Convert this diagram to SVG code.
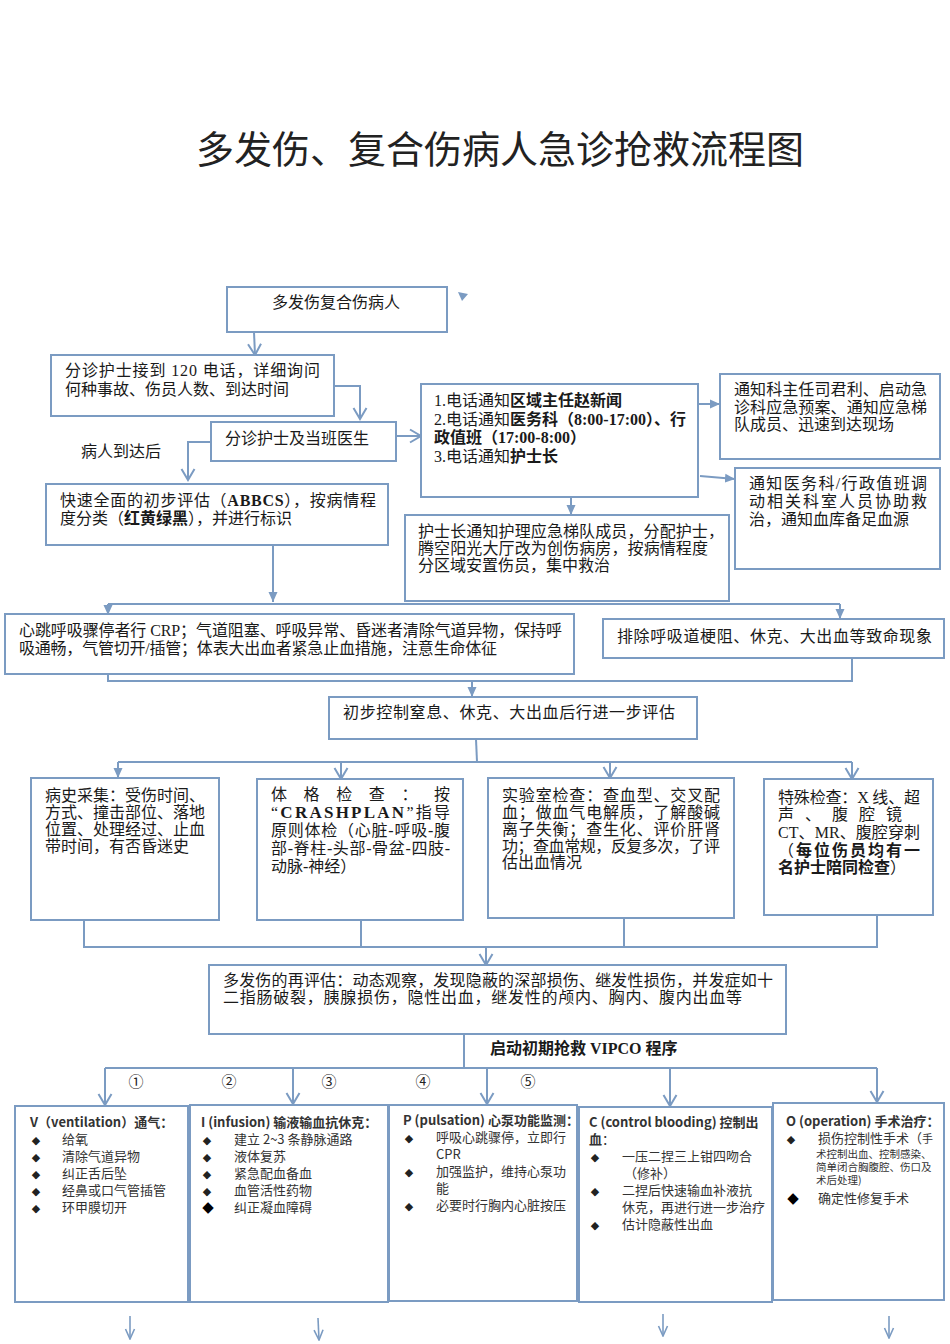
<svg xmlns="http://www.w3.org/2000/svg" width="950" height="1344" viewBox="0 0 950 1344">
<style>
.b{fill:#fff;stroke:#7b9bc2;stroke-width:2}
.c{fill:none;stroke:#7b9bc2;stroke-width:2}
.c2{fill:none;stroke:#7b9bc2;stroke-width:1.6}
.t{font-family:"Liberation Serif","Noto Sans CJK SC",serif;font-size:16px;fill:#1a1a1a}
.s{font-family:"Noto Sans CJK SC","Noto Sans",sans-serif;font-size:13px;fill:#333}
.sm{font-family:"Noto Sans CJK SC","Noto Sans",sans-serif;font-size:10.5px;fill:#333}
.bd{font-weight:bold}
.d{font-family:"DejaVu Sans",sans-serif;font-size:11px;fill:#222}
.dl{font-family:"DejaVu Sans",sans-serif;font-size:15px;fill:#000}
.n{font-family:"Noto Sans CJK SC",sans-serif;font-size:15px;fill:#222}
</style>
<defs>
<marker id="v" markerUnits="userSpaceOnUse" markerWidth="14" markerHeight="16" viewBox="0 0 14 16" refX="12" refY="8" orient="auto"><path d="M1,1.5 L12,8 L1,14.5" fill="none" stroke="#7b9bc2" stroke-width="2"/></marker>
<marker id="vs" markerUnits="userSpaceOnUse" markerWidth="12" markerHeight="12" viewBox="0 0 12 12" refX="11" refY="6" orient="auto"><path d="M1,1.5 L11,6 L1,10.5" fill="none" stroke="#7b9bc2" stroke-width="1.6"/></marker>
<marker id="f" markerUnits="userSpaceOnUse" markerWidth="10" markerHeight="10" viewBox="0 0 10 10" refX="10" refY="5" orient="auto"><path d="M0,0.5 L10,5 L0,9.5 z" fill="#7b9bc2"/></marker>
</defs>

<text x="500" y="163" text-anchor="middle" style="font-family:'Noto Sans CJK SC',sans-serif;font-size:38px;fill:#222">多发伤、复合伤病人急诊抢救流程图</text>

<g id="connectors">
<polygon points="458,292 468,294 462,301" fill="#7b9bc2"/>
<line class="c" x1="254" y1="332" x2="255" y2="355" marker-end="url(#v)"/>
<polyline class="c" points="334,386 360,386 360,419" marker-end="url(#v)"/>
<polyline class="c" points="211,442 188,442 188,480" marker-end="url(#v)"/>
<line class="c" x1="396" y1="436" x2="421" y2="436" marker-end="url(#v)"/>
<line class="c" x1="273" y1="545" x2="273" y2="602" marker-end="url(#f)"/>
<line class="c" x1="698" y1="404" x2="720" y2="404" marker-end="url(#f)"/>
<line class="c" x1="700" y1="476" x2="735" y2="479" marker-end="url(#f)"/>
<line class="c" x1="571" y1="497" x2="571" y2="515" marker-end="url(#f)"/>
<line class="c" x1="108" y1="604" x2="840" y2="604"/>
<line class="c" x1="108" y1="604" x2="108" y2="615" marker-end="url(#f)"/>
<line class="c" x1="840" y1="604" x2="840" y2="619" marker-end="url(#f)"/>
<polyline class="c" points="108,674 108,681 852,681 852,658"/>
<line class="c" x1="472" y1="681" x2="472" y2="697" marker-end="url(#f)"/>
<line class="c" x1="476" y1="739" x2="477" y2="762"/>
<line class="c" x1="118" y1="762" x2="852" y2="762"/>
<line class="c" x1="118" y1="762" x2="118" y2="778" marker-end="url(#f)"/>
<line class="c" x1="341" y1="762" x2="341" y2="779" marker-end="url(#v)"/>
<line class="c" x1="610" y1="762" x2="610" y2="778" marker-end="url(#v)"/>
<line class="c" x1="852" y1="762" x2="852" y2="779" marker-end="url(#v)"/>
<polyline class="c" points="84,920 84,947 877,947 877,915"/>
<line class="c" x1="361" y1="920" x2="361" y2="947"/>
<line class="c" x1="624" y1="918" x2="624" y2="947"/>
<line class="c" x1="486" y1="947" x2="486" y2="965" marker-end="url(#v)"/>
<line class="c" x1="464" y1="1034" x2="464" y2="1068"/>
<line class="c" x1="105" y1="1068" x2="877" y2="1068"/>
<line class="c" x1="105" y1="1068" x2="105" y2="1105" marker-end="url(#v)"/>
<line class="c" x1="293" y1="1068" x2="293" y2="1104" marker-end="url(#v)"/>
<line class="c" x1="487" y1="1068" x2="487" y2="1104" marker-end="url(#v)"/>
<line class="c" x1="670" y1="1068" x2="670" y2="1106" marker-end="url(#v)"/>
<line class="c" x1="877" y1="1068" x2="877" y2="1102" marker-end="url(#v)"/>
<line class="c2" x1="130" y1="1316" x2="130" y2="1339" marker-end="url(#vs)"/>
<line class="c2" x1="318" y1="1318" x2="319" y2="1340" marker-end="url(#vs)"/>
<line class="c2" x1="663" y1="1314" x2="663" y2="1336" marker-end="url(#vs)"/>
<line class="c2" x1="889" y1="1316" x2="889" y2="1338" marker-end="url(#vs)"/>
<text class="t" x="81" y="457">病人到达后</text>
<text class="t bd" x="490" y="1054">启动初期抢救 VIPCO 程序</text>
<text class="n" x="136" y="1087" text-anchor="middle">①</text>
<text class="n" x="229" y="1087" text-anchor="middle">②</text>
<text class="n" x="329" y="1087" text-anchor="middle">③</text>
<text class="n" x="423" y="1087" text-anchor="middle">④</text>
<text class="n" x="528" y="1087" text-anchor="middle">⑤</text>
</g>

<g id="n1"><rect class="b" x="227" y="287" width="220" height="45"/>
<text class="t" x="272" y="308">多发伤复合伤病人</text></g>

<g id="n2"><rect class="b" x="51" y="355" width="283" height="61"/>
<text class="t" x="65" y="376" textLength="255" lengthAdjust="spacing">分诊护士接到 120 电话，详细询问</text>
<text class="t" x="65" y="395">何种事故、伤员人数、到达时间</text></g>

<g id="n3"><rect class="b" x="211" y="422" width="185" height="39"/>
<text class="t" x="225" y="444">分诊护士及当班医生</text></g>

<g id="n4"><rect class="b" x="46" y="484" width="342" height="61"/>
<text class="t" x="60" y="506" textLength="316" lengthAdjust="spacing">快速全面的初步评估（<tspan class="bd">ABBCS</tspan>），按病情程</text>
<text class="t" x="60" y="524">度分类（<tspan class="bd">红黄绿黑</tspan>），并进行标识</text></g>

<g id="n5"><rect class="b" x="421" y="384" width="277" height="113"/>
<text class="t" x="434" y="406">1.电话通知<tspan class="bd">区域主任赵新闻</tspan></text>
<text class="t" x="434" y="425" textLength="252" lengthAdjust="spacing">2.电话通知<tspan class="bd">医务科（8:00-17:00）、行</tspan></text>
<text class="t bd" x="434" y="443">政值班（17:00-8:00）</text>
<text class="t" x="434" y="462">3.电话通知<tspan class="bd">护士长</tspan></text></g>

<g id="n6"><rect class="b" x="720" y="374" width="220" height="85"/>
<text class="t" x="734" y="395" textLength="193" lengthAdjust="spacing">通知科主任司君利、启动急</text>
<text class="t" x="734" y="413" textLength="193" lengthAdjust="spacing">诊科应急预案、通知应急梯</text>
<text class="t" x="734" y="430">队成员、迅速到达现场</text></g>

<g id="n7"><rect class="b" x="735" y="468" width="205" height="101"/>
<text class="t" x="749" y="489" textLength="178" lengthAdjust="spacing">通知医务科/行政值班调</text>
<text class="t" x="749" y="507" textLength="178" lengthAdjust="spacing">动相关科室人员协助救</text>
<text class="t" x="749" y="525">治，通知血库备足血源</text></g>

<g id="n8"><rect class="b" x="405" y="515" width="324" height="86"/>
<text class="t" x="418" y="537" textLength="306" lengthAdjust="spacing">护士长通知护理应急梯队成员，分配护士，</text>
<text class="t" x="418" y="554" textLength="290" lengthAdjust="spacing">腾空阳光大厅改为创伤病房，按病情程度</text>
<text class="t" x="418" y="571">分区域安置伤员，集中救治</text></g>

<g id="n9"><rect class="b" x="5" y="614" width="569" height="60"/>
<text class="t" x="19" y="636" textLength="543" lengthAdjust="spacing">心跳呼吸骤停者行 CRP；气道阻塞、呼吸异常、昏迷者清除气道异物，保持呼</text>
<text class="t" x="19" y="654" textLength="478" lengthAdjust="spacing">吸通畅，气管切开/插管；体表大出血者紧急止血措施，注意生命体征</text></g>

<g id="n10"><rect class="b" x="603" y="619" width="341" height="39"/>
<text class="t" x="617" y="642" textLength="315" lengthAdjust="spacing">排除呼吸道梗阻、休克、大出血等致命现象</text></g>

<g id="n11"><rect class="b" x="329" y="697" width="368" height="42"/>
<text class="t" x="343" y="718" textLength="332" lengthAdjust="spacing">初步控制窒息、休克、大出血后行进一步评估</text></g>

<g id="n12"><rect class="b" x="31" y="778" width="188" height="142"/>
<text class="t" x="45" y="801">病史采集：受伤时间、</text>
<text class="t" x="45" y="818">方式、撞击部位、落地</text>
<text class="t" x="45" y="835">位置、处理经过、止血</text>
<text class="t" x="45" y="852">带时间，有否昏迷史</text></g>

<g id="n13"><rect class="b" x="257" y="779" width="206" height="141"/>
<text class="t" x="271" y="800" textLength="179" lengthAdjust="spacing">体格检查：按</text>
<text class="t" x="271" y="818" textLength="179" lengthAdjust="spacing">“<tspan class="bd" font-size="17px">CRASHPLAN</tspan>”指导</text>
<text class="t" x="271" y="836" textLength="179" lengthAdjust="spacing">原则体检（心脏-呼吸-腹</text>
<text class="t" x="271" y="854" textLength="179" lengthAdjust="spacing">部-脊柱-头部-骨盆-四肢-</text>
<text class="t" x="271" y="872">动脉-神经）</text></g>

<g id="n14"><rect class="b" x="488" y="778" width="246" height="140"/>
<text class="t" x="502" y="801" textLength="218" lengthAdjust="spacing">实验室检查：查血型、交叉配</text>
<text class="t" x="502" y="818" textLength="218" lengthAdjust="spacing">血；做血气电解质，了解酸碱</text>
<text class="t" x="502" y="835" textLength="218" lengthAdjust="spacing">离子失衡；查生化、评价肝肾</text>
<text class="t" x="502" y="852" textLength="218" lengthAdjust="spacing">功；查血常规，反复多次，了评</text>
<text class="t" x="502" y="868">估出血情况</text></g>

<g id="n15"><rect class="b" x="764" y="779" width="169" height="136"/>
<text class="t" x="778" y="803" textLength="142" lengthAdjust="spacing">特殊检查：X 线、超</text>
<text class="t" x="778" y="820" textLength="124" lengthAdjust="spacing">声、腹腔镜</text>
<text class="t" x="778" y="838" textLength="142" lengthAdjust="spacing">CT、MR、腹腔穿刺</text>
<text class="t" x="778" y="856" textLength="142" lengthAdjust="spacing">（<tspan class="bd">每位伤员均有一</tspan></text>
<text class="t" x="778" y="873"><tspan class="bd">名护士陪同检查</tspan>）</text></g>

<g id="n16"><rect class="b" x="209" y="965" width="577" height="69"/>
<text class="t" x="223" y="986" textLength="550" lengthAdjust="spacing">多发伤的再评估：动态观察，发现隐蔽的深部损伤、继发性损伤，并发症如十</text>
<text class="t" x="223" y="1003" textLength="519" lengthAdjust="spacing">二指肠破裂，胰腺损伤，隐性出血，继发性的颅内、胸内、腹内出血等</text></g>

<g id="nV"><rect class="b" x="15" y="1106" width="173" height="196"/>
<text class="s bd" x="30" y="1127">V（ventilation）通气：</text>
<text class="d" x="36" y="1144" text-anchor="middle">◆</text><text class="s" x="62" y="1144">给氧</text>
<text class="d" x="36" y="1161" text-anchor="middle">◆</text><text class="s" x="62" y="1161">清除气道异物</text>
<text class="d" x="36" y="1178" text-anchor="middle">◆</text><text class="s" x="62" y="1178">纠正舌后坠</text>
<text class="d" x="36" y="1195" text-anchor="middle">◆</text><text class="s" x="62" y="1195">经鼻或口气管插管</text>
<text class="d" x="36" y="1212" text-anchor="middle">◆</text><text class="s" x="62" y="1212">环甲膜切开</text></g>

<g id="nI"><rect class="b" x="190" y="1105" width="198" height="197"/>
<text class="s bd" x="201" y="1127">I (infusion) 输液输血抗休克：</text>
<text class="d" x="207" y="1144" text-anchor="middle">◆</text><text class="s" x="234" y="1144">建立 2~3 条静脉通路</text>
<text class="d" x="207" y="1161" text-anchor="middle">◆</text><text class="s" x="234" y="1161">液体复苏</text>
<text class="d" x="207" y="1178" text-anchor="middle">◆</text><text class="s" x="234" y="1178">紧急配血备血</text>
<text class="d" x="207" y="1195" text-anchor="middle">◆</text><text class="s" x="234" y="1195">血管活性药物</text>
<text class="dl" x="208" y="1212" text-anchor="middle">◆</text><text class="s" x="234" y="1212">纠正凝血障碍</text></g>

<g id="nP"><rect class="b" x="389" y="1105" width="188" height="196"/>
<text class="s bd" x="403" y="1125">P (pulsation) 心泵功能监测：</text>
<text class="d" x="409" y="1142" text-anchor="middle">◆</text><text class="s" x="436" y="1142">呼吸心跳骤停，立即行</text>
<text class="s" x="436" y="1159">CPR</text>
<text class="d" x="409" y="1176" text-anchor="middle">◆</text><text class="s" x="436" y="1176">加强监护，维持心泵功</text>
<text class="s" x="436" y="1193">能</text>
<text class="d" x="409" y="1210" text-anchor="middle">◆</text><text class="s" x="436" y="1210">必要时行胸内心脏按压</text></g>

<g id="nC"><rect class="b" x="579" y="1107" width="193" height="195"/>
<text class="s bd" x="589" y="1127">C (control blooding) 控制出</text>
<text class="s bd" x="589" y="1144">血<tspan font-weight="normal">：</tspan></text>
<text class="d" x="595" y="1161" text-anchor="middle">◆</text><text class="s" x="622" y="1161">一压二捏三上钳四吻合</text>
<text class="s" x="624" y="1178">（修补）</text>
<text class="d" x="595" y="1195" text-anchor="middle">◆</text><text class="s" x="622" y="1195">二捏后快速输血补液抗</text>
<text class="s" x="622" y="1212">休克，再进行进一步治疗</text>
<text class="d" x="595" y="1229" text-anchor="middle">◆</text><text class="s" x="622" y="1229">估计隐蔽性出血</text></g>

<g id="nO"><rect class="b" x="773" y="1103" width="171" height="197"/>
<text class="s bd" x="786" y="1126">O (operation) 手术治疗：</text>
<text class="d" x="791" y="1143" text-anchor="middle">◆</text><text class="s" x="818" y="1143">损伤控制性手术（<tspan font-size="11px">手</tspan></text>
<text class="sm" x="816" y="1158">术控制出血、控制感染、</text>
<text class="sm" x="816" y="1171">简单闭合胸腹腔、伤口及</text>
<text class="sm" x="816" y="1184">术后处理)</text>
<text class="dl" x="793" y="1203" text-anchor="middle">◆</text><text class="s" x="818" y="1203">确定性修复手术</text></g>
</svg>
